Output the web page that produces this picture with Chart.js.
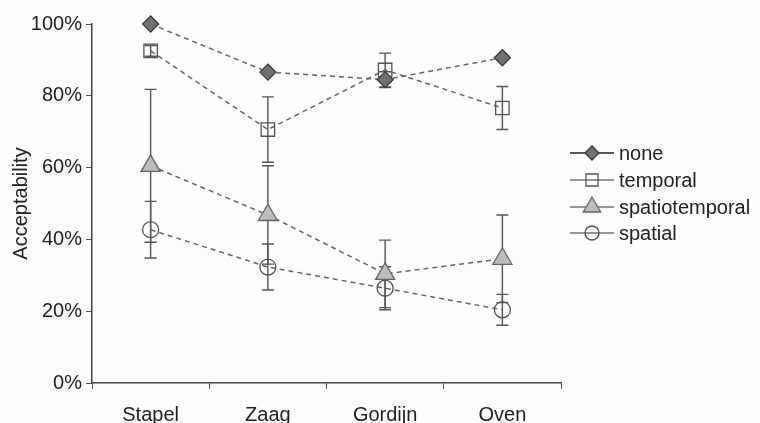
<!DOCTYPE html>
<html>
<head>
<meta charset="utf-8">
<script src="https://cdn.jsdelivr.net/npm/chart.js@4.4.1/dist/chart.umd.min.js"></script>
<style>
  html, body { margin: 0; padding: 0; background: #fdfdfd; }
  #wrap { width: 760px; height: 423px; position: relative; }
</style>
</head>
<body>
<div id="wrap"><canvas id="chart"></canvas></div>
<script>
const categories = ["Stapel", "Zaag", "Gordijn", "Oven"];
const yTicks = [0, 20, 40, 60, 80, 100];

const noneVals = [100, 86.6, 84.5, 90.6];
const noneErr = [0, 0, 2.2, 0];
const temporalVals = [92.5, 70.6, 87.2, 76.6];
const temporalErr = [1.5, 9.1, 4.7, 6.0];
const spatiotemporalVals = [60.5, 46.8, 30.4, 34.6];
const spatiotemporalErr = [21.3, 13.7, 9.4, 12.2];
const spatialVals = [42.7, 32.3, 26.4, 20.4];
const spatialErr = [7.9, 6.4, 6.0, 4.3];

Chart.defaults.font.family = "'Liberation Sans', Arial, sans-serif";
Chart.defaults.color = "#222";

const series = [
  { label: "none", data: noneVals, err: noneErr, style: "rectRot", r: 8, fill: "#707070", stroke: "#3c3c3c", legendLine: "#222" },
  { label: "temporal", data: temporalVals, err: temporalErr, style: "rect", r: 9.5, fill: "rgba(0,0,0,0)", stroke: "#555", legendLine: "#777" },
  { label: "spatiotemporal", data: spatiotemporalVals, err: spatiotemporalErr, style: "triangle", r: 11, fill: "#bdbdbd", stroke: "#666", legendLine: "#777" },
  { label: "spatial", data: spatialVals, err: spatialErr, style: "circle", r: 8, fill: "rgba(0,0,0,0)", stroke: "#555", legendLine: "#777" },
];

// error bars drawn under the markers
const errorBars = {
  id: "errorBars",
  beforeDatasetsDraw(chart) {
    const ctx = chart.ctx;
    const y = chart.scales.y;
    ctx.save();
    ctx.strokeStyle = "#555";
    ctx.lineWidth = 1.4;
    chart.data.datasets.forEach((ds, i) => {
      const meta = chart.getDatasetMeta(i);
      meta.data.forEach((pt, j) => {
        const e = ds.err[j];
        if (!e) return;
        const top = y.getPixelForValue(ds.data[j] + e);
        const bot = y.getPixelForValue(ds.data[j] - e);
        ctx.beginPath();
        ctx.moveTo(pt.x, top);
        ctx.lineTo(pt.x, bot);
        ctx.moveTo(pt.x - 6, top);
        ctx.lineTo(pt.x + 6, top);
        ctx.moveTo(pt.x - 6, bot);
        ctx.lineTo(pt.x + 6, bot);
        ctx.stroke();
      });
    });
    ctx.restore();
  },
};

const sideLegend = {
  id: "sideLegend",
  afterDraw(chart) {
    const ctx = chart.ctx;
    const x0 = chart.chartArea.right + 9;
    const rows = [153, 180, 207, 233];
    ctx.save();
    chart.data.datasets.forEach((ds, i) => {
      const yy = rows[i];
      ctx.strokeStyle = series[i].legendLine;
      ctx.lineWidth = 1.5;
      ctx.setLineDash([]);
      ctx.beginPath();
      ctx.moveTo(x0, yy);
      ctx.lineTo(x0 + 44, yy);
      ctx.stroke();
      ctx.fillStyle = ds.pointBackgroundColor;
      ctx.strokeStyle = ds.pointBorderColor;
      ctx.lineWidth = ds.pointBorderWidth;
      Chart.helpers.drawPoint(ctx, { pointStyle: ds.pointStyle, radius: ds.pointRadius - 1, borderWidth: ds.pointBorderWidth, rotation: 0 }, x0 + 22, yy);
      ctx.fillStyle = "#222";
      ctx.font = "20px 'Liberation Sans', Arial, sans-serif";
      ctx.textBaseline = "middle";
      ctx.fillText(ds.label, x0 + 49, yy + 1);
    });
    ctx.restore();
  },
};

new Chart(document.getElementById("chart"), {
  type: "line",
  data: {
    labels: categories,
    datasets: series.map((s) => ({
      label: s.label,
      data: s.data,
      err: s.err,
      borderColor: "#666",
      borderWidth: 1.5,
      borderDash: [5, 4],
      tension: 0,
      fill: false,
      clip: false,
      pointStyle: s.style,
      pointRadius: s.r,
      pointHoverRadius: s.r,
      pointBackgroundColor: s.fill,
      pointBorderColor: s.stroke,
      pointBorderWidth: 1.3,
    })),
  },
  options: {
    responsive: true,
    maintainAspectRatio: false,
    animation: false,
    layout: { padding: { left: 0, right: 199, top: 24, bottom: 0 } },
    plugins: {
      legend: { display: false },
      tooltip: { enabled: false },
    },
    scales: {
      x: {
        offset: true,
        grid: { offset: true, drawOnChartArea: false, tickLength: 6, color: "#555" },
        border: { color: "#444", width: 1.5 },
        ticks: { color: "#222", font: { size: 20 }, padding: 14, maxRotation: 0 },
        afterFit: (s) => { s.height = 40; },
      },
      y: {
        min: 0,
        max: 100,
        afterBuildTicks: (s) => { s.ticks = yTicks.map((v) => ({ value: v })); },
        ticks: { color: "#222", font: { size: 20 }, padding: 4, callback: (v) => v + "%" },
        grid: { drawOnChartArea: false, tickLength: 6, color: "#555" },
        border: { color: "#444", width: 1.5 },
        title: { display: true, text: "Acceptability", color: "#222", font: { size: 20 }, padding: { top: 9, bottom: 0 } },
        afterFit: (s) => { s.width = 92; },
      },
    },
  },
  plugins: [errorBars, sideLegend],
});
</script>
</body>
</html>
